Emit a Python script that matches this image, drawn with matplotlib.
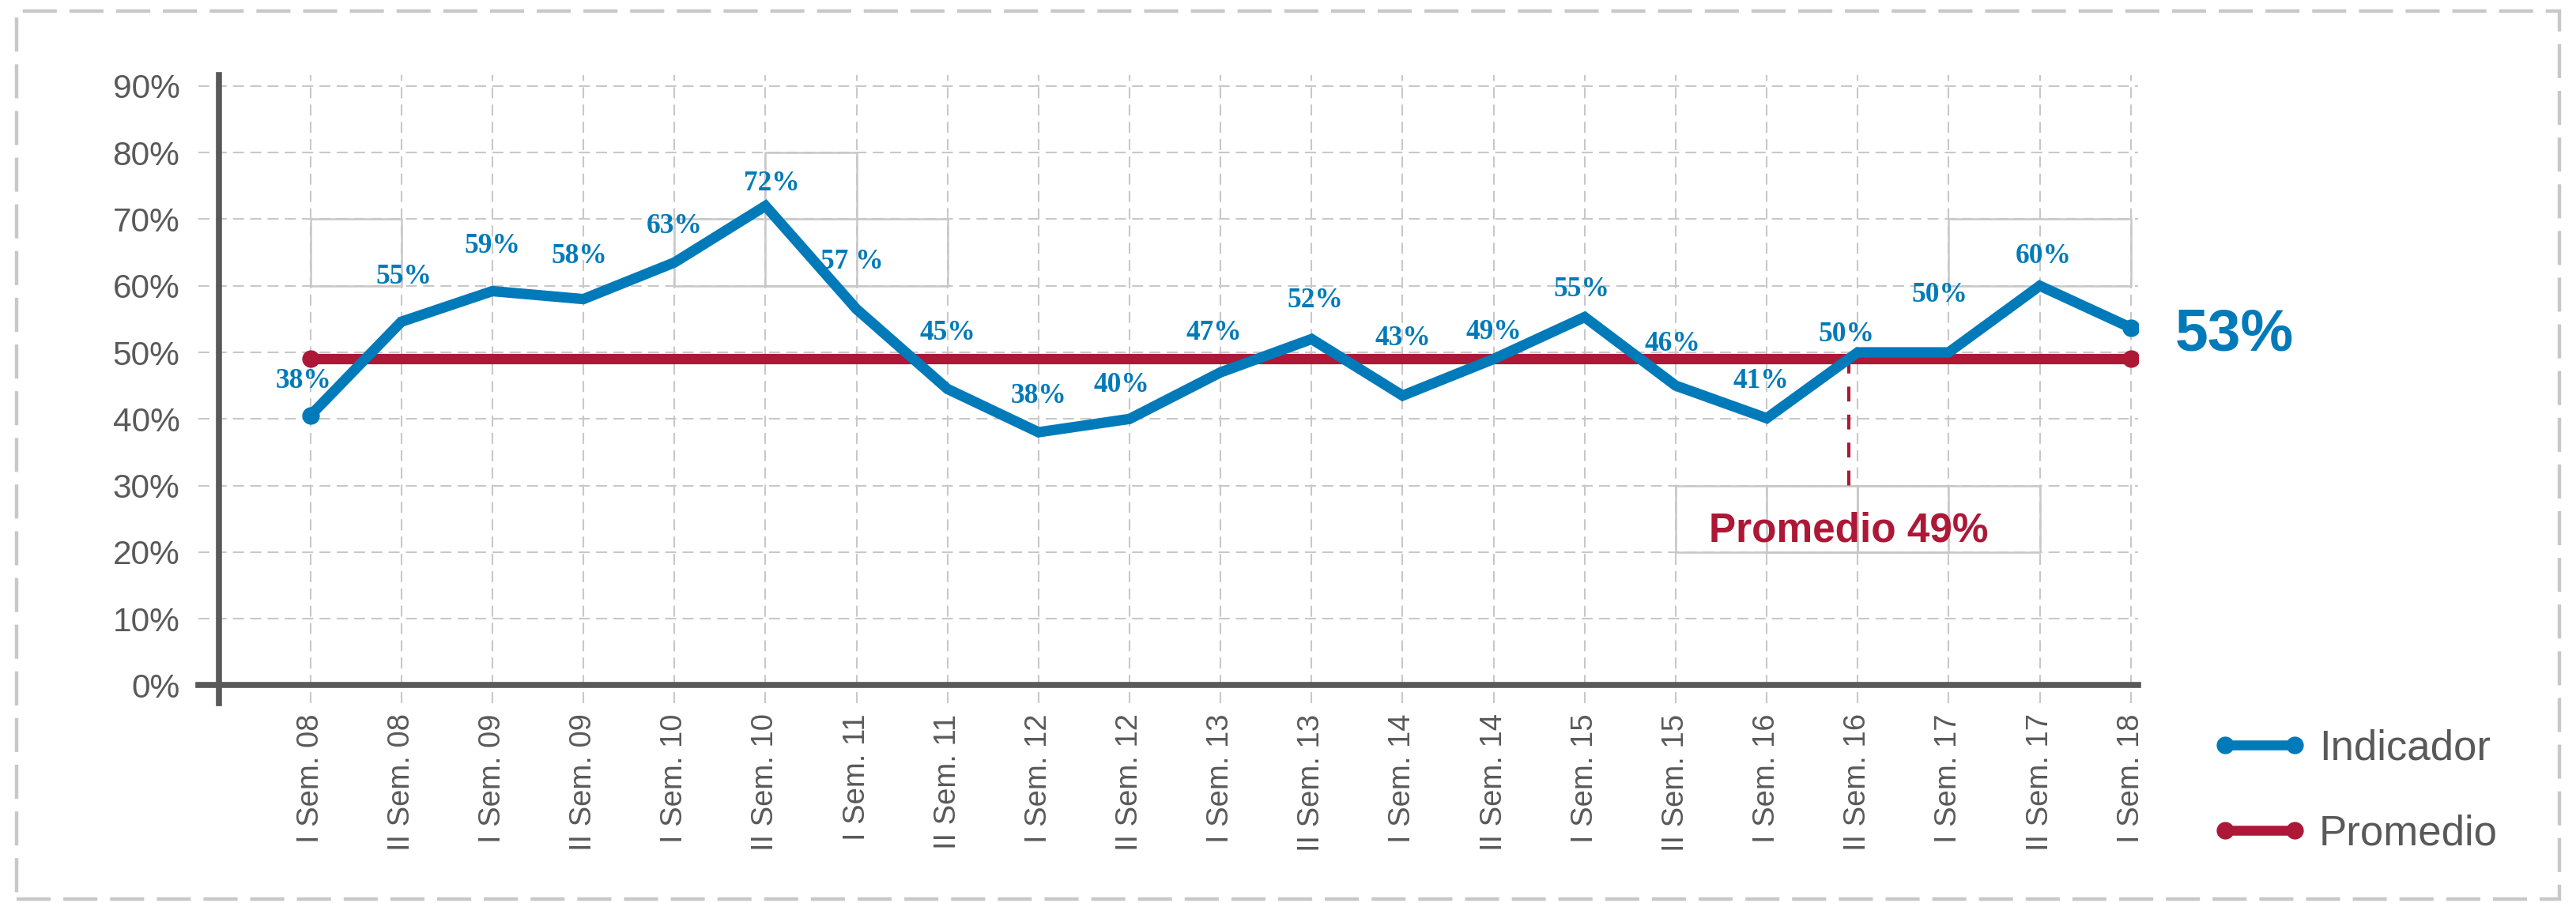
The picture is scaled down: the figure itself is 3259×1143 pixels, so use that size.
#!/usr/bin/env python3
# -*- coding: utf-8 -*-
"""
Indicador semestral vs promedio (I Sem. 08 - I Sem. 18).

Line chart with percentage labels, a flat average line, an annotated
average value and a legend at the right-hand side.
"""

# Import matplotlib (no display)
import matplotlib
matplotlib.use("Agg")
# Import pyplot for the figure
import matplotlib.pyplot as plt
# Import Line2D for the legend handles
from matplotlib.lines import Line2D
# Import Rectangle for the outer dashed frame
from matplotlib.patches import Rectangle

# =============================================================================
# DATA
# =============================================================================

# Semester categories on the x axis
CATEGORIES = [
    "I Sem. 08", "II Sem. 08", "I Sem. 09", "II Sem. 09", "I Sem. 10",
    "II Sem. 10", "I Sem. 11", "II Sem. 11", "I Sem. 12", "II Sem. 12",
    "I Sem. 13", "II Sem. 13", "I Sem. 14", "II Sem. 14", "I Sem. 15",
    "II Sem. 15", "I Sem. 16", "II Sem. 16", "I Sem. 17", "II Sem. 17",
    "I Sem. 18",
]
# Indicator values as drawn by the line
INDICADOR = [
    0.405, 0.546, 0.592, 0.580, 0.635, 0.720, 0.565, 0.445, 0.380, 0.400,
    0.470, 0.520, 0.435, 0.490, 0.553, 0.450, 0.401, 0.500, 0.500, 0.600,
    0.537,
]
# Data label texts printed above each point (last one is shown big)
INDICADOR_LABELS = [
    "38%", "55%", "59%", "58%", "63%", "72%", "57 %", "45%", "38%", "40%",
    "47%", "52%", "43%", "49%", "55%", "46%", "41%", "50%", "50%", "60%",
]
# Label of the last point
ULTIMO_LABEL = "53%"
# Average value
PROMEDIO = 0.49
# Average annotation text
PROMEDIO_LABEL = "Promedio 49%"
# Y ticks and their labels
Y_TICKS = [0.0, 0.1, 0.2, 0.3, 0.4, 0.5, 0.6, 0.7, 0.8, 0.9]
Y_TICK_LABELS = ["0%", "10%", "20%", "30%", "40%", "50%", "60%", "70%", "80%", "90%"]
# Series names for the legend
SERIES_NAMES = ["Indicador", "Promedio"]

# =============================================================================
# STYLE
# =============================================================================

# Colours
BLUE = "#007AB9"
RED = "#AC1836"
GREY_TEXT = "#595959"
GRID = "#C8C8C8"
# Fonts
SANS = ["Liberation Sans", "DejaVu Sans"]
SERIF = ["Liberation Serif", "DejaVu Serif"]
# Offsets (points) of each data label baseline from its point
LABEL_OFFSETS = [
    (-6, 25), (2, 35), (0, 35), (-4, 33), (0, 27), (6, 14), (-4, 37),
    (0, 45), (0, 27), (-7, 25), (-6, 30), (3, 29), (0, 46), (0, 18),
    (-3, 19), (-3, 32), (-5, 28), (-10, 10), (-8, 46), (3, 21),
]
# Position of the average annotation (category units / value)
PROMEDIO_NOTE_X = 16.9
PROMEDIO_NOTE_BOTTOM = 0.286
PROMEDIO_NOTE_TEXT_Y = 0.216
# Grid cells rendered with solid lines in the original
SOLID_CELLS = [
    (0, 1, 0.6, 0.7), (4, 7, 0.6, 0.7), (5, 6, 0.6, 0.8), (18, 20, 0.6, 0.7),
    (15, 19, 0.2, 0.3), (16, 17, 0.2, 0.3), (17, 18, 0.2, 0.3),
]

# =============================================================================
# MAIN PROGRAM
# =============================================================================


def main():
    # Figure with the target pixel size
    fig = plt.figure(figsize=(32.59, 11.43), dpi=100)
    # Axes placed by hand
    ax = fig.add_axes([0.0770, 0.2213, 0.7530, 0.6959])

    # Spines crossing at (-1, 0); done first because it resets the ticks
    ax.spines["top"].set_visible(False)
    ax.spines["right"].set_visible(False)
    ax.spines["left"].set_position(("data", -1.0))
    ax.spines["bottom"].set_position(("data", 0.0))
    for side in ("left", "bottom"):
        ax.spines[side].set_color(GREY_TEXT)
        ax.spines[side].set_linewidth(5.5)
        ax.spines[side].set_zorder(5)

    # Category positions
    x = list(range(len(CATEGORIES)))

    # Grid behind everything
    ax.set_axisbelow(True)
    ax.grid(True, color=GRID, linewidth=1.5, linestyle=(0, (6.7, 3.8)))

    # Solid grid cells
    for x0, x1, y0, y1 in SOLID_CELLS:
        ax.plot([x0, x1, x1, x0, x0], [y0, y0, y1, y1, y0],
                color=GRID, linewidth=1.8, zorder=1)

    # Dashed pointer from the average line to its annotation
    ax.plot([PROMEDIO_NOTE_X, PROMEDIO_NOTE_X], [PROMEDIO, PROMEDIO_NOTE_BOTTOM],
            color=RED, linewidth=3, linestyle=(0, (4.5, 4)), zorder=2)
    # Average annotation text
    ax.text(PROMEDIO_NOTE_X, PROMEDIO_NOTE_TEXT_Y, PROMEDIO_LABEL, color=RED,
            fontsize=37, fontweight="bold", family=SANS, ha="center",
            va="baseline", zorder=5)

    # Average line
    ax.plot(x, [PROMEDIO] * len(x), color=RED, linewidth=9.5,
            marker="o", markersize=15, markevery=[0, len(x) - 1],
            solid_capstyle="butt", zorder=3)
    # Indicator line
    ax.plot(x, INDICADOR, color=BLUE, linewidth=9.5, marker="o",
            markersize=15, markevery=[0, len(x) - 1],
            solid_joinstyle="miter", solid_capstyle="butt", zorder=4)

    # Data labels
    for i, text in enumerate(INDICADOR_LABELS):
        # Offset of this label
        dx, dy = LABEL_OFFSETS[i]
        # Draw the label
        ax.annotate(text, (x[i], INDICADOR[i]), xytext=(dx, dy),
                    textcoords="offset points", ha="center", va="baseline",
                    color=BLUE, fontsize=25.5, fontweight="bold", family=SERIF,
                    zorder=6)
    # Big label of the last value
    ax.annotate(ULTIMO_LABEL, (x[-1], INDICADOR[-1]), xytext=(40, -21),
                textcoords="offset points", ha="left", va="baseline",
                color=BLUE, fontsize=54, fontweight="bold", family=SANS,
                annotation_clip=False)

    # Limits
    ax.set_xlim(-1.23, 20.08)
    ax.set_ylim(-0.027, 0.917)

    # Ticks and labels
    ax.set_xticks(x)
    ax.set_xticklabels(CATEGORIES, rotation=90, fontsize=27.5,
                       color=GREY_TEXT, family=SANS)
    ax.set_yticks(Y_TICKS)
    ax.set_yticklabels(Y_TICK_LABELS, fontsize=30.5, color=GREY_TEXT,
                       family=SANS)
    ax.tick_params(axis="x", length=0, pad=26)
    ax.tick_params(axis="y", length=0, pad=36)

    # Legend handles
    handles = [
        Line2D([], [], color=BLUE, linewidth=9, marker="o", markersize=15),
        Line2D([], [], color=RED, linewidth=9, marker="o", markersize=15),
    ]
    # Legend at the lower right
    fig.legend(handles, SERIES_NAMES, loc="center left",
               bbox_to_anchor=(0.8589, 0.1238), frameon=False, numpoints=2,
               handlelength=2.27, handletextpad=0.28, labelspacing=1.11,
               borderpad=0, borderaxespad=0, labelcolor=GREY_TEXT,
               prop={"family": SANS, "size": 38})

    # Outer dashed frame
    frame = Rectangle((21 / 3259, 5 / 1143), 3217 / 3259, 1124 / 1143,
                      transform=fig.transFigure, fill=False, edgecolor=GRID,
                      linewidth=3.2, linestyle=(0, (9.7, 3.6)))
    fig.add_artist(frame)

    # Save
    fig.savefig("out.png", dpi=100)
    plt.close(fig)


# Entry point
if __name__ == "__main__":
    main()
